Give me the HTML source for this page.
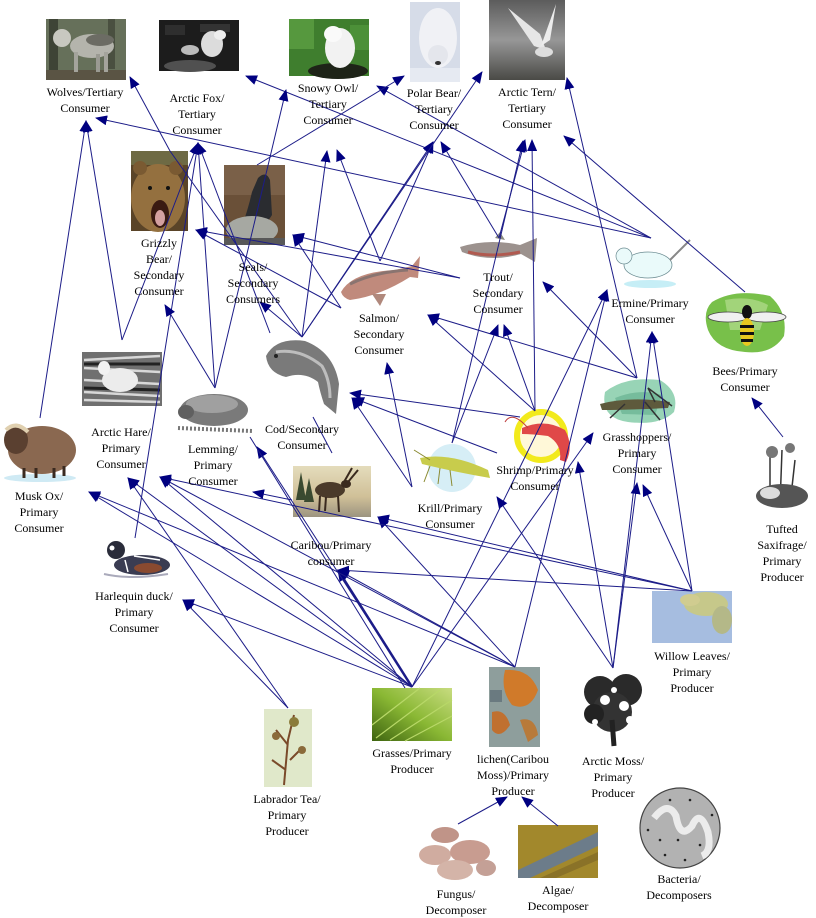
<!DOCTYPE html>
<html><head><meta charset="utf-8"><style>
html,body{margin:0;padding:0;background:#fff;}
body{width:816px;height:917px;position:relative;overflow:hidden;font-family:"Liberation Serif","DejaVu Serif",serif;}
svg{position:absolute;left:0;top:0;}
.l{position:absolute;width:130px;text-align:center;font-size:12px;line-height:16px;color:#000;white-space:nowrap;}
</style></head><body>
<svg width="816" height="917" viewBox="0 0 816 917" xmlns="http://www.w3.org/2000/svg">
<defs>
<marker id="a" viewBox="0 0 12 10" refX="11" refY="5" markerWidth="12" markerHeight="10" markerUnits="userSpaceOnUse" orient="auto"><path d="M0,0 L12,5 L0,10 z" fill="#000080"/></marker>
<linearGradient id="tern" x1="0" y1="0" x2="0" y2="1"><stop offset="0" stop-color="#5c5c5c"/><stop offset="0.5" stop-color="#979797"/><stop offset="1" stop-color="#4a4a46"/></linearGradient>
<linearGradient id="grass" x1="0" y1="1" x2="1" y2="0"><stop offset="0" stop-color="#3e6410"/><stop offset="0.5" stop-color="#8ab834"/><stop offset="1" stop-color="#c8dc80"/></linearGradient>
<linearGradient id="car" x1="0" y1="0" x2="0" y2="1"><stop offset="0" stop-color="#e4dcbc"/><stop offset="0.6" stop-color="#d0c098"/><stop offset="1" stop-color="#9c9480"/></linearGradient>
</defs>

<!-- Wolves -->
<rect x="46" y="19" width="80" height="61" fill="#66705a"/>
<rect x="49" y="19" width="9" height="61" fill="#3e4436"/>
<rect x="108" y="19" width="7" height="50" fill="#4a5040"/>
<rect x="46" y="70" width="80" height="10" fill="#5a5444"/>
<ellipse cx="92" cy="46" rx="22" ry="12" fill="#b4b4ac"/>
<ellipse cx="100" cy="40" rx="14" ry="6" fill="#6c6c64"/>
<ellipse cx="62" cy="38" rx="9" ry="9" fill="#c8c8c0"/>
<rect x="74" y="52" width="4" height="20" fill="#a4a49c"/><rect x="104" y="52" width="4" height="20" fill="#a4a49c"/><rect x="96" y="54" width="4" height="18" fill="#9a9a92"/>

<!-- Arctic Fox -->
<rect x="159" y="20" width="80" height="51" fill="#1c1c1c"/>
<rect x="165" y="25" width="20" height="10" fill="#2e2e2e"/><rect x="200" y="24" width="30" height="8" fill="#333"/>
<ellipse cx="190" cy="66" rx="26" ry="6" fill="#505050"/>
<ellipse cx="212" cy="44" rx="11" ry="13" fill="#dcdcdc"/>
<ellipse cx="220" cy="35" rx="6" ry="5" fill="#eee"/>
<ellipse cx="190" cy="50" rx="9" ry="5" fill="#bbb"/>

<!-- Snowy Owl -->
<rect x="289" y="19" width="80" height="57" fill="#3f7e2e"/>
<rect x="289" y="19" width="25" height="30" fill="#56983e"/><rect x="350" y="25" width="19" height="25" fill="#4c9038"/>
<ellipse cx="338" cy="71" rx="30" ry="8" fill="#1e2418"/>
<ellipse cx="340" cy="48" rx="15" ry="20" fill="#f2f2f2"/>
<ellipse cx="333" cy="34" rx="9" ry="8" fill="#fafafa"/>

<!-- Polar Bear -->
<rect x="410" y="2" width="50" height="80" fill="#d6dce8"/>
<ellipse cx="438" cy="38" rx="19" ry="30" fill="#f0f1f5"/>
<ellipse cx="438" cy="55" rx="10" ry="10" fill="#e4e6ec"/>
<ellipse cx="438" cy="63" rx="3" ry="2" fill="#333"/>
<rect x="410" y="68" width="50" height="14" fill="#e6eaf2"/>

<!-- Arctic Tern -->
<rect x="489" y="0" width="76" height="80" fill="url(#tern)"/>
<path d="M508,8 L540,34 L546,50 L534,46 Z" fill="#e6e6e6"/>
<path d="M556,4 L550,40 L541,46 Z" fill="#ececec"/>
<ellipse cx="544" cy="52" rx="9" ry="5" fill="#ddd"/>

<!-- Grizzly -->
<rect x="131" y="151" width="57" height="80" fill="#5a4428"/>
<rect x="131" y="151" width="57" height="14" fill="#6e6a44"/>
<ellipse cx="158" cy="198" rx="27" ry="34" fill="#94703f"/>
<circle cx="140" cy="168" r="7" fill="#7a5a32"/><circle cx="176" cy="168" r="7" fill="#7a5a32"/>
<ellipse cx="160" cy="214" rx="9" ry="14" fill="#3a1a12"/>
<ellipse cx="160" cy="218" rx="5" ry="8" fill="#d4a0a0"/>
<circle cx="150" cy="188" r="2" fill="#111"/><circle cx="168" cy="188" r="2" fill="#111"/>

<!-- Seals -->
<rect x="224" y="165" width="61" height="80" fill="#6a5038"/>
<rect x="224" y="165" width="61" height="30" fill="#7a6048"/>
<path d="M258,178 Q266,170 270,180 L272,215 Q262,232 240,232 Q248,210 252,192 Z" fill="#2a2c30"/>
<ellipse cx="252" cy="230" rx="26" ry="14" fill="#a6a8a2"/>
<rect x="224" y="238" width="61" height="7" fill="#585858"/>

<!-- Salmon -->
<path d="M341,292 Q352,272 395,270 L412,266 L420,256 L418,278 L410,277 Q380,296 350,300 Q343,298 341,292 Z" fill="#c08a7c"/>
<path d="M350,284 Q375,272 408,270" stroke="#8a7470" stroke-width="3" fill="none"/>
<path d="M372,294 L380,306 L386,294 Z" fill="#b0887c"/>

<!-- Trout -->
<path d="M460,247 Q488,238 520,245 L537,238 L535,262 L521,254 Q490,263 462,252 Z" fill="#9c928e"/>
<path d="M468,252 Q492,258 520,252" stroke="#b05a50" stroke-width="3" fill="none"/>
<path d="M495,238 L500,232 L505,240 Z" fill="#8a8a80"/>

<!-- Ermine -->
<ellipse cx="650" cy="284" rx="26" ry="4" fill="#c6eef6"/>
<ellipse cx="648" cy="265" rx="24" ry="13" fill="#eafafa" stroke="#6a8a90" stroke-width="0.7"/>
<circle cx="624" cy="256" r="8" fill="#eafafa" stroke="#6a8a90" stroke-width="0.7"/>
<path d="M670,260 L690,240" stroke="#888" stroke-width="2"/>

<!-- Bees -->
<path d="M712,302 Q735,288 770,296 Q788,312 784,336 Q772,355 745,352 Q716,350 708,330 Q702,312 712,302 Z" fill="#78c04a"/>
<path d="M725,300 Q750,295 768,305 L760,330 L730,330 Z" fill="#a2d47a"/>
<ellipse cx="728" cy="317" rx="20" ry="5" fill="#f0f0f0" stroke="#444" stroke-width="0.8"/>
<ellipse cx="766" cy="317" rx="20" ry="5" fill="#f0f0f0" stroke="#444" stroke-width="0.8"/>
<ellipse cx="747" cy="312" rx="5" ry="7" fill="#111"/>
<ellipse cx="747" cy="332" rx="7" ry="14" fill="#e8c820"/>
<rect x="740" y="325" width="14" height="3" fill="#111"/><rect x="740" y="332" width="14" height="3" fill="#111"/><rect x="741" y="339" width="12" height="3" fill="#111"/>

<!-- Grasshoppers -->
<path d="M605,392 Q625,376 660,380 Q680,392 674,412 Q660,426 628,422 Q600,418 605,392 Z" fill="#98d4b6"/>
<path d="M615,398 Q640,388 662,395 L655,415 L622,414 Z" fill="#76bc9c"/>
<path d="M600,404 Q630,396 670,402 L668,408 Q630,410 602,410 Z" fill="#5e5a3c"/>
<path d="M625,404 L610,418 M645,402 L660,420 M655,402 L648,388 L672,406" stroke="#333" stroke-width="1.5" fill="none"/>

<!-- Shrimp -->
<circle cx="541" cy="436" r="24" fill="#fff8d8" stroke="#f2ea1c" stroke-width="6"/>
<path d="M522,428 Q545,418 565,430 Q574,446 566,462 L560,460 Q562,444 548,436 Q532,434 522,434 Z" fill="#e04848"/>
<path d="M505,422 Q512,410 528,428" stroke="#c04040" stroke-width="1" fill="none"/>

<!-- Krill -->
<circle cx="452" cy="468" r="24" fill="#d6eef6"/>
<path d="M420,458 Q450,452 488,470 L490,478 Q455,472 422,464 Z" fill="#c8cc4c"/>
<path d="M430,466 L424,482 M440,468 L438,484 M450,470 L452,486 M414,450 L430,460" stroke="#8a8a30" stroke-width="1" fill="none"/>

<!-- Cod -->
<path d="M266,356 Q276,337 305,341 Q334,352 339,384 L336,414 L324,404 Q320,392 318,382 Q304,371 286,377 Q268,373 266,356 Z" fill="#7a7a7a"/>
<path d="M276,352 Q300,348 322,366 Q330,380 330,398" stroke="#bdbdbd" stroke-width="3" fill="none"/>
<circle cx="276" cy="356" r="2" fill="#222"/>

<!-- Caribou -->
<rect x="293" y="466" width="78" height="51" fill="url(#car)"/>
<path d="M296,500 L301,472 L306,500 Z M304,502 L309,478 L314,502 Z" fill="#3a4a30"/>
<ellipse cx="330" cy="490" rx="15" ry="8" fill="#4a3a2a"/>
<ellipse cx="346" cy="484" rx="5" ry="4" fill="#3a2a1e"/>
<path d="M320,496 L319,512 M338,496 L339,512 M326,497 L325,511 M344,482 L352,468 M348,482 L358,470" stroke="#3a2a1e" stroke-width="2" fill="none"/>

<!-- Arctic Hare -->
<rect x="82" y="352" width="80" height="54" fill="#707070"/>
<path d="M84,360 L160,356 M84,368 L160,372 M84,380 L160,384 M84,392 L160,396 M84,400 L160,402" stroke="#d8d8d8" stroke-width="2.5"/>
<path d="M84,364 L160,364 M84,388 L160,390" stroke="#222" stroke-width="3"/>
<ellipse cx="120" cy="380" rx="18" ry="12" fill="#ececec"/>
<ellipse cx="104" cy="368" rx="6" ry="7" fill="#f2f2f2"/>

<!-- Lemming -->
<ellipse cx="214" cy="410" rx="34" ry="16" fill="#7a7a7a"/>
<ellipse cx="212" cy="404" rx="26" ry="9" fill="#a0a0a0"/>
<ellipse cx="186" cy="412" rx="8" ry="7" fill="#606060"/>
<path d="M178,428 L252,431" stroke="#777" stroke-width="4" stroke-dasharray="2 2"/>

<!-- Musk Ox -->
<ellipse cx="40" cy="478" rx="36" ry="4" fill="#cfeaf4"/>
<ellipse cx="42" cy="450" rx="34" ry="24" fill="#8a6850"/>
<ellipse cx="16" cy="440" rx="12" ry="14" fill="#5a4030"/>
<path d="M6,430 Q16,420 28,432" stroke="#e0d0b0" stroke-width="4" fill="none"/>
<path d="M24,468 L24,478 M36,468 L36,478 M54,468 L54,478 M64,466 L64,476" stroke="#3a2a20" stroke-width="3"/>

<!-- Harlequin duck -->
<path d="M104,574 Q130,580 168,574" stroke="#aab" stroke-width="2" fill="none"/>
<ellipse cx="142" cy="565" rx="28" ry="10" fill="#3a3c52"/>
<ellipse cx="148" cy="568" rx="14" ry="5" fill="#8a4a30"/>
<circle cx="116" cy="550" r="9" fill="#2a2c3a"/>
<circle cx="112" cy="548" r="2.5" fill="#fff"/>
<path d="M125,560 L128,572 M134,556 L160,560" stroke="#fff" stroke-width="1.5"/>

<!-- Willow -->
<rect x="652" y="591" width="80" height="52" fill="#a6bde0"/>
<ellipse cx="706" cy="604" rx="22" ry="12" fill="#c6c88a"/>
<ellipse cx="722" cy="620" rx="10" ry="14" fill="#b4b888"/>
<ellipse cx="690" cy="600" rx="10" ry="6" fill="#d0cc90"/>

<!-- Tufted Saxifrage -->
<path d="M770,455 L770,505 M782,450 L780,505 M795,460 L790,505" stroke="#333" stroke-width="1.5"/>
<ellipse cx="782" cy="496" rx="26" ry="12" fill="#555"/>
<circle cx="772" cy="452" r="6" fill="#777"/><circle cx="790" cy="448" r="5" fill="#777"/>
<ellipse cx="770" cy="493" rx="10" ry="6" fill="#ddd"/>

<!-- Arctic Moss -->
<circle cx="600" cy="692" r="16" fill="#2a2a2a"/><circle cx="626" cy="690" r="16" fill="#2a2a2a"/>
<circle cx="612" cy="712" r="20" fill="#333"/><circle cx="594" cy="714" r="10" fill="#222"/>
<path d="M612,720 L614,746" stroke="#222" stroke-width="5"/>
<circle cx="605" cy="700" r="5" fill="#fff"/><circle cx="624" cy="706" r="5" fill="#fff"/><circle cx="614" cy="690" r="3" fill="#fff"/><circle cx="595" cy="722" r="3" fill="#fff"/><circle cx="630" cy="720" r="4" fill="#fff"/>

<!-- Grasses -->
<rect x="372" y="688" width="80" height="53" fill="url(#grass)"/>
<path d="M376,738 L440,690 M390,740 L452,700 M372,725 L420,688 M405,741 L452,716" stroke="#b8d868" stroke-width="1.2"/>

<!-- Lichen -->
<rect x="489" y="667" width="51" height="80" fill="#8e9e9c"/>
<path d="M505,670 Q530,668 538,690 Q530,712 512,705 Q500,690 505,670 Z" fill="#d07a2a"/>
<path d="M492,712 Q505,708 510,725 Q500,740 492,730 Z" fill="#c07030"/>
<path d="M520,720 Q535,716 538,735 L528,742 Z" fill="#b87a3a"/>
<rect x="490" y="690" width="12" height="12" fill="#6a7a80"/>

<!-- Labrador Tea -->
<rect x="264" y="709" width="48" height="78" fill="#e0e8ca"/>
<path d="M284,785 L288,740 L294,715 M288,745 L276,730 M290,760 L302,748 M286,770 L272,760" stroke="#7a4a2a" stroke-width="2" fill="none"/>
<circle cx="294" cy="722" r="5" fill="#8a7a3a"/><circle cx="276" cy="736" r="4" fill="#8a6a3a"/><circle cx="302" cy="750" r="4" fill="#8a6a3a"/>

<!-- Fungus -->
<ellipse cx="445" cy="835" rx="14" ry="8" fill="#c09488"/>
<ellipse cx="435" cy="855" rx="16" ry="10" fill="#d0aca0"/>
<ellipse cx="470" cy="852" rx="20" ry="12" fill="#c89c90"/>
<ellipse cx="455" cy="870" rx="18" ry="10" fill="#d4b4a8"/>
<ellipse cx="486" cy="868" rx="10" ry="8" fill="#c4a096"/>

<!-- Algae -->
<rect x="518" y="825" width="80" height="53" fill="#a2882c"/>
<path d="M518,870 L598,832 L598,846 L530,878 L518,878 Z" fill="#6c7c8a"/>
<path d="M540,878 L598,852 L598,860 L556,878 Z" fill="#8a7228"/>

<!-- Bacteria -->
<circle cx="680" cy="828" r="40" fill="#b2b2b2" stroke="#444" stroke-width="1.2"/>
<path d="M654,818 Q668,800 676,816 Q680,840 692,826 Q700,808 708,832 Q712,852 702,856" stroke="#ececec" stroke-width="7" fill="none"/>
<g fill="#222"><circle cx="660" cy="840" r="1.3"/><circle cx="670" cy="800" r="1.3"/><circle cx="690" cy="800" r="1.3"/><circle cx="700" cy="845" r="1.3"/><circle cx="665" cy="855" r="1.3"/><circle cx="648" cy="830" r="1.3"/><circle cx="712" cy="815" r="1.3"/><circle cx="685" cy="860" r="1.3"/><circle cx="678" cy="840" r="1.3"/></g>

<!-- Connectors -->
<g stroke="#1c1c88" stroke-width="1" fill="none">
<line x1="170" y1="151" x2="130" y2="77" marker-end="url(#a)"/>
<line x1="40" y1="418" x2="86" y2="121" marker-end="url(#a)"/>
<line x1="122" y1="340" x2="86" y2="121" marker-end="url(#a)"/>
<line x1="651" y1="238" x2="96" y2="118" marker-end="url(#a)"/>
<line x1="651" y1="238" x2="246" y2="76" marker-end="url(#a)"/>
<line x1="122" y1="340" x2="198" y2="143" marker-end="url(#a)"/>
<line x1="215" y1="388" x2="198" y2="143" marker-end="url(#a)"/>
<line x1="135" y1="538" x2="198" y2="143" marker-end="url(#a)"/>
<line x1="270" y1="333" x2="198" y2="143" marker-end="url(#a)"/>
<line x1="215" y1="388" x2="286" y2="90" marker-end="url(#a)"/>
<line x1="651" y1="238" x2="377" y2="86" marker-end="url(#a)"/>
<line x1="302" y1="337" x2="327" y2="151" marker-end="url(#a)"/>
<line x1="380" y1="261" x2="337" y2="150" marker-end="url(#a)"/>
<line x1="257" y1="165" x2="404" y2="76" marker-end="url(#a)"/>
<line x1="302" y1="337" x2="433" y2="142" marker-end="url(#a)"/>
<line x1="380" y1="261" x2="433" y2="142" marker-end="url(#a)"/>
<line x1="499" y1="238" x2="441" y2="142" marker-end="url(#a)"/>
<line x1="302" y1="337" x2="482" y2="72" marker-end="url(#a)"/>
<line x1="745" y1="292" x2="564" y2="136" marker-end="url(#a)"/>
<line x1="499" y1="238" x2="525" y2="140" marker-end="url(#a)"/>
<line x1="452" y1="443" x2="523" y2="141" marker-end="url(#a)"/>
<line x1="535" y1="411" x2="532" y2="140" marker-end="url(#a)"/>
<line x1="637" y1="378" x2="567" y2="78" marker-end="url(#a)"/>
<line x1="215" y1="388" x2="165" y2="305" marker-end="url(#a)"/>
<line x1="460" y1="278" x2="196" y2="230" marker-end="url(#a)"/>
<line x1="341" y1="308" x2="196" y2="230" marker-end="url(#a)"/>
<line x1="460" y1="278" x2="293" y2="235" marker-end="url(#a)"/>
<line x1="341" y1="308" x2="293" y2="235" marker-end="url(#a)"/>
<line x1="302" y1="337" x2="260" y2="302" marker-end="url(#a)"/>
<line x1="412" y1="487" x2="387" y2="363" marker-end="url(#a)"/>
<line x1="535" y1="411" x2="428" y2="315" marker-end="url(#a)"/>
<line x1="637" y1="378" x2="428" y2="315" marker-end="url(#a)"/>
<line x1="452" y1="443" x2="498" y2="325" marker-end="url(#a)"/>
<line x1="535" y1="411" x2="504" y2="325" marker-end="url(#a)"/>
<line x1="637" y1="378" x2="543" y2="282" marker-end="url(#a)"/>
<line x1="520" y1="417" x2="350" y2="393" marker-end="url(#a)"/>
<line x1="497" y1="453" x2="353" y2="398" marker-end="url(#a)"/>
<line x1="412" y1="487" x2="352" y2="398" marker-end="url(#a)"/>
<line x1="412" y1="687" x2="607" y2="290" marker-end="url(#a)"/>
<line x1="515" y1="667" x2="607" y2="290" marker-end="url(#a)"/>
<line x1="692" y1="591" x2="652" y2="332" marker-end="url(#a)"/>
<line x1="613" y1="668" x2="652" y2="332" marker-end="url(#a)"/>
<line x1="783" y1="437" x2="752" y2="398" marker-end="url(#a)"/>
<line x1="412" y1="687" x2="593" y2="433" marker-end="url(#a)"/>
<line x1="613" y1="668" x2="637" y2="483" marker-end="url(#a)"/>
<line x1="692" y1="591" x2="643" y2="485" marker-end="url(#a)"/>
<line x1="613" y1="668" x2="578" y2="462" marker-end="url(#a)"/>
<line x1="613" y1="668" x2="497" y2="497" marker-end="url(#a)"/>
<line x1="692" y1="591" x2="378" y2="517" marker-end="url(#a)"/>
<line x1="515" y1="667" x2="378" y2="517" marker-end="url(#a)"/>
<line x1="692" y1="591" x2="338" y2="570" marker-end="url(#a)"/>
<line x1="412" y1="687" x2="338" y2="570" stroke-width="2.5" marker-end="url(#a)"/>
<line x1="515" y1="667" x2="338" y2="570" marker-end="url(#a)"/>
<line x1="412" y1="687" x2="257" y2="447" marker-end="url(#a)"/>
<line x1="250" y1="437" x2="405" y2="688"/>
<line x1="292" y1="500" x2="253" y2="492" marker-end="url(#a)"/>
<line x1="412" y1="687" x2="89" y2="492" marker-end="url(#a)"/>
<line x1="515" y1="667" x2="89" y2="492" marker-end="url(#a)"/>
<line x1="412" y1="687" x2="128" y2="478" marker-end="url(#a)"/>
<line x1="288" y1="708" x2="128" y2="478" marker-end="url(#a)"/>
<line x1="412" y1="687" x2="160" y2="477" marker-end="url(#a)"/>
<line x1="515" y1="667" x2="160" y2="477" marker-end="url(#a)"/>
<line x1="692" y1="591" x2="160" y2="477" marker-end="url(#a)"/>
<line x1="412" y1="687" x2="183" y2="600" marker-end="url(#a)"/>
<line x1="288" y1="708" x2="183" y2="600" marker-end="url(#a)"/>
<line x1="458" y1="824" x2="507" y2="797" marker-end="url(#a)"/>
<line x1="558" y1="826" x2="522" y2="797" marker-end="url(#a)"/>
<line x1="302" y1="337" x2="170" y2="151"/>
<line x1="313" y1="417" x2="332" y2="453"/>
</g>
</svg>

<div class="l" style="left:20px;top:84px">Wolves/Tertiary<br>Consumer</div>
<div class="l" style="left:132px;top:90px">Arctic Fox/<br>Tertiary<br>Consumer</div>
<div class="l" style="left:263px;top:80px">Snowy Owl/<br>Tertiary<br>Consumer</div>
<div class="l" style="left:369px;top:85px">Polar Bear/<br>Tertiary<br>Consumer</div>
<div class="l" style="left:462px;top:84px">Arctic Tern/<br>Tertiary<br>Consumer</div>
<div class="l" style="left:94px;top:235px">Grizzly<br>Bear/<br>Secondary<br>Consumer</div>
<div class="l" style="left:188px;top:259px">Seals/<br>Secondary<br>Consumers</div>
<div class="l" style="left:314px;top:310px">Salmon/<br>Secondary<br>Consumer</div>
<div class="l" style="left:433px;top:269px">Trout/<br>Secondary<br>Consumer</div>
<div class="l" style="left:585px;top:295px">Ermine/Primary<br>Consumer</div>
<div class="l" style="left:680px;top:363px">Bees/Primary<br>Consumer</div>
<div class="l" style="left:572px;top:429px">Grasshoppers/<br>Primary<br>Consumer</div>
<div class="l" style="left:470px;top:462px">Shrimp/Primary<br>Consumer</div>
<div class="l" style="left:385px;top:500px">Krill/Primary<br>Consumer</div>
<div class="l" style="left:237px;top:421px">Cod/Secondary<br>Consumer</div>
<div class="l" style="left:266px;top:537px">Caribou/Primary<br>consumer</div>
<div class="l" style="left:56px;top:424px">Arctic Hare/<br>Primary<br>Consumer</div>
<div class="l" style="left:148px;top:441px">Lemming/<br>Primary<br>Consumer</div>
<div class="l" style="left:-26px;top:488px">Musk Ox/<br>Primary<br>Consumer</div>
<div class="l" style="left:69px;top:588px">Harlequin duck/<br>Primary<br>Consumer</div>
<div class="l" style="left:627px;top:648px">Willow Leaves/<br>Primary<br>Producer</div>
<div class="l" style="left:717px;top:521px">Tufted<br>Saxifrage/<br>Primary<br>Producer</div>
<div class="l" style="left:548px;top:753px">Arctic Moss/<br>Primary<br>Producer</div>
<div class="l" style="left:347px;top:745px">Grasses/Primary<br>Producer</div>
<div class="l" style="left:448px;top:751px">lichen(Caribou<br>Moss)/Primary<br>Producer</div>
<div class="l" style="left:222px;top:791px">Labrador Tea/<br>Primary<br>Producer</div>
<div class="l" style="left:391px;top:886px">Fungus/<br>Decomposer</div>
<div class="l" style="left:493px;top:882px">Algae/<br>Decomposer</div>
<div class="l" style="left:614px;top:871px">Bacteria/<br>Decomposers</div>
</body></html>
